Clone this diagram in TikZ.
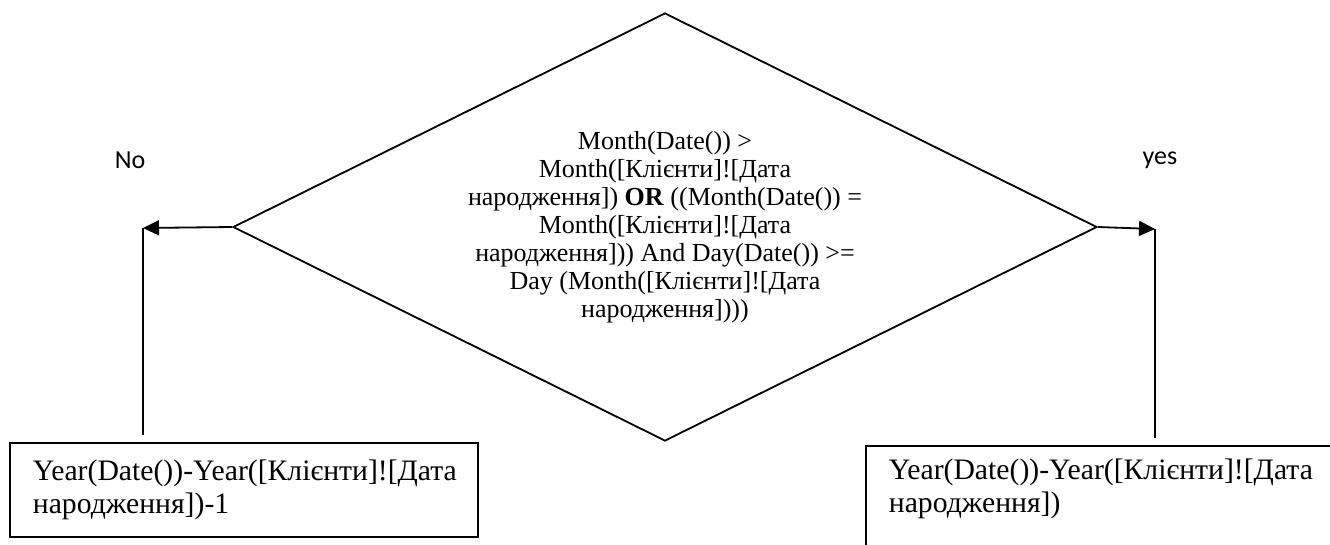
\documentclass[tikz,border=0pt]{standalone}
\usepackage{fontspec}
\setmainfont{Liberation Serif}
\newfontfamily\lblfont{Carlito}
\usetikzlibrary{arrows.meta,shapes.geometric}
\begin{document}
\begin{tikzpicture}[x=1pt,y=-1pt,
  line width=1.8pt,
  decision/.style={draw, diamond, aspect=2.02, minimum width=864pt, minimum height=428pt,
    inner sep=0pt, align=center, font=\fontsize{26}{28}\selectfont},
  resultbox/.style={draw, rectangle, anchor=north west, align=left,
    inner xsep=23pt, font=\fontsize{29.7}{33}\selectfont},
  branchlabel/.style={font=\lblfont\fontsize{26}{30}\selectfont},
  flow/.style={-{Triangle[length=16pt,width=15pt]}},
]
\useasboundingbox (0,0) rectangle (1330,544);
\clip (0,0) rectangle (1330,544);

\node[decision] (dec) at (665,227) {Month(Date()) >\\
Month([Клієнти]![Дата\\
народження]) \textbf{OR} ((Month(Date()) =\\
Month([Клієнти]![Дата\\
народження])) And Day(Date()) >=\\
Day (Month([Клієнти]![Дата\\
народження])))};

\coordinate (ltip) at (143,228);
\coordinate (lend) at (143,435);
\coordinate (rtip) at (1155,229);
\coordinate (rend) at (1155,438);

\draw[flow] (dec.west) -- (ltip);
\draw (ltip) -- (lend);
\draw[flow] (dec.east) -- (rtip);
\draw (rtip) -- (rend);

\node[branchlabel] (no) at (130,160) {No};
\node[branchlabel] (yes) at (1160,160) {yes};

\node[resultbox, text width=422pt, minimum width=468pt, minimum height=94pt]
  (lbox) at (9,442) {\mbox{Year(Date())-Year([Клієнти]![Дата}\\народження])-1};
\node[resultbox, text width=600pt, inner ysep=13pt]
  (rbox) at (865,445) {\mbox{Year(Date())-Year([Клієнти]![Дата}\\народження])\\[30pt]\strut};
\end{tikzpicture}
\end{document}
